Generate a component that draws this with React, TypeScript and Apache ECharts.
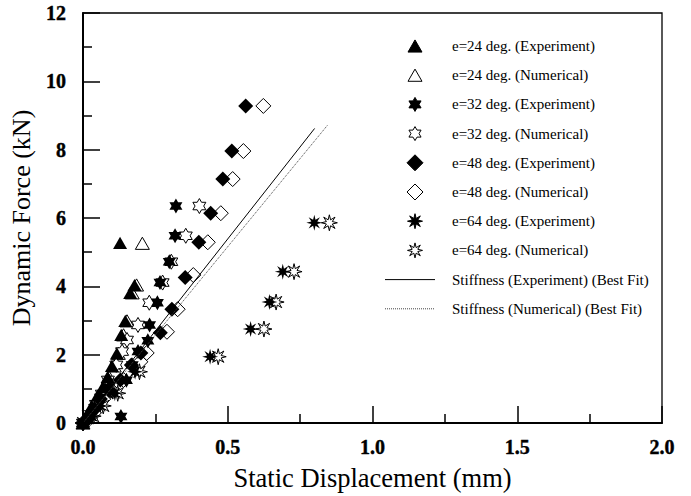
import React, { useEffect, useRef } from "react";
import * as echarts from "echarts";

// ---- data (x: static displacement mm, y: dynamic force kN) ----
const e24Exp = [[0, 0], [0.015, 0.25], [0.03, 0.5], [0.05, 0.8], [0.068, 1.05], [0.085, 1.35], [0.1, 1.67], [0.117, 2.04], [0.132, 2.58], [0.146, 2.99], [0.163, 3.81], [0.178, 4.04], [0.128, 5.27]];
const e24Num = [[0, 0], [0.02, 0.25], [0.035, 0.5], [0.055, 0.8], [0.075, 1.05], [0.09, 1.35], [0.108, 1.67], [0.122, 2.04], [0.14, 2.58], [0.152, 2.99], [0.17, 3.81], [0.185, 4.04], [0.205, 5.26]];
const e32Exp = [[0, 0], [0.02, 0.2], [0.04, 0.45], [0.06, 0.75], [0.09, 1.05], [0.131, 0.19], [0.15, 1.25], [0.17, 1.7], [0.19, 2.09], [0.224, 2.41], [0.23, 2.87], [0.257, 3.52], [0.266, 4.11], [0.298, 4.72], [0.318, 5.48], [0.321, 6.35]];
const e32Num = [[0, 0], [0.02, 0.25], [0.045, 0.55], [0.065, 0.85], [0.086, 1.26], [0.115, 1.7], [0.135, 2.09], [0.152, 2.43], [0.19, 2.87], [0.229, 3.52], [0.275, 4.11], [0.305, 4.72], [0.355, 5.48], [0.402, 6.35]];
const e48Exp = [[0, 0], [0.02, 0.15], [0.04, 0.4], [0.06, 0.7], [0.09, 0.95], [0.129, 1.26], [0.167, 1.7], [0.2, 2.05], [0.267, 2.64], [0.307, 3.33], [0.353, 4.26], [0.4, 5.29], [0.441, 6.14], [0.483, 7.14], [0.514, 7.96], [0.562, 9.28]];
const e48Num = [[0, 0], [0.025, 0.15], [0.05, 0.4], [0.07, 0.7], [0.1, 0.95], [0.14, 1.26], [0.198, 1.79], [0.22, 2.05], [0.29, 2.67], [0.327, 3.33], [0.381, 4.33], [0.431, 5.29], [0.476, 6.14], [0.517, 7.14], [0.554, 7.96], [0.623, 9.28]];
const e64Exp = [[0, 0], [0.03, 0.2], [0.06, 0.5], [0.11, 0.87], [0.18, 1.5], [0.439, 1.94], [0.579, 2.75], [0.644, 3.54], [0.69, 4.43], [0.799, 5.86]];
const e64Num = [[0, 0], [0.035, 0.2], [0.07, 0.5], [0.12, 0.87], [0.195, 1.5], [0.467, 1.94], [0.625, 2.75], [0.667, 3.54], [0.729, 4.43], [0.851, 5.86]];
const fitExp = [[0, 0], [0.8, 8.62]];
const fitNum = [[0, 0], [0.845, 8.72]];

const names = [
  "e=24 deg. (Experiment)",
  "e=24 deg. (Numerical)",
  "e=32 deg. (Experiment)",
  "e=32 deg. (Numerical)",
  "e=48 deg. (Experiment)",
  "e=48 deg. (Numerical)",
  "e=64 deg. (Experiment)",
  "e=64 deg. (Numerical)",
];
const lineNames = ["Stiffness (Experiment) (Best Fit)", "Stiffness (Numerical) (Best Fit)"];

const D_TRI = "M50,0L100,87L0,87Z";
const D_DIA = "M50,0L100,50L50,100L0,50Z";
const D_HEX = "M50,0L64.43,25L93.3,25L78.87,50L93.3,75L64.43,75L50,100L35.57,75L6.7,75L21.13,50L6.7,25L35.57,25Z";
const D_STAR8 = "M50,0L57.65,31.52L85.36,14.64L68.48,42.35L100,50L68.48,57.65L85.36,85.36L57.65,68.48L50,100L42.35,68.48L14.64,85.36L31.52,57.65L0,50L31.52,42.35L14.64,14.64L42.35,31.52Z";

echarts.graphic.registerShape("lgTri", echarts.graphic.extendPath(D_TRI, {}));
echarts.graphic.registerShape("lgDia", echarts.graphic.extendPath(D_DIA, {}));
echarts.graphic.registerShape("lgHex", echarts.graphic.extendPath(D_HEX, {}));
echarts.graphic.registerShape("lgStar8", echarts.graphic.extendPath(D_STAR8, {}));

const FONT = "'Times New Roman', 'Liberation Serif', serif";

function scat(name: string, data: number[][], d: string, size: number, filled: boolean) {
  return {
    type: "scatter",
    name,
    data,
    symbol: "path://" + d,
    symbolSize: size,
    symbolKeepAspect: true,
    itemStyle: filled
      ? { color: "#000", borderColor: "#000", borderWidth: 0, opacity: 1 }
      : { color: "#fff", borderColor: "#000", borderWidth: 1, opacity: 1 },
    z: filled ? 4 : 3,
  };
}

function buildLegend() {
  const shapes = ["lgTri", "lgTri", "lgHex", "lgHex", "lgDia", "lgDia", "lgStar8", "lgStar8"];
  const sizes = [14, 14, 14, 14, 16, 16, 15, 15];
  const els: any[] = [];
  const x0 = 415;
  const y0 = 46;
  const dy = 29.2;
  names.forEach((n, i) => {
    const y = y0 + i * dy;
    const s = sizes[i];
    const filled = i % 2 === 0;
    const h = shapes[i] === "lgTri" ? s * 0.87 : s;
    els.push({
      type: shapes[i],
      x: x0 - s / 2,
      y: y - h / 2,
      scaleX: s / 100,
      scaleY: s / 100,
      style: { fill: filled ? "#000" : "#fff", stroke: "#000", lineWidth: 1, strokeNoScale: true },
      silent: true,
    });
    els.push({
      type: "text",
      x: 452,
      y,
      style: { text: n, fontFamily: FONT, fontSize: 15, fill: "#000", verticalAlign: "middle", align: "left" },
      silent: true,
    });
  });
  lineNames.forEach((n, j) => {
    const y = y0 + (8 + j) * dy;
    els.push({
      type: "line",
      shape: { x1: 385, y1: y, x2: 435, y2: y },
      style: j === 0 ? { stroke: "#000", lineWidth: 1 } : { stroke: "#444", lineWidth: 1, lineDash: [1, 1] },
      silent: true,
    });
    els.push({
      type: "text",
      x: 452,
      y,
      style: { text: n, fontFamily: FONT, fontSize: 15, fill: "#000", verticalAlign: "middle", align: "left" },
      silent: true,
    });
  });
  return els;
}

export default function App() {
  const ref = useRef<HTMLDivElement>(null);
  useEffect(() => {
    if (!ref.current) return;
    const chart = echarts.init(ref.current, null, { renderer: "svg" });
    const axisLabel = {
      fontFamily: FONT,
      fontWeight: "bold",
      fontSize: 20,
      color: "#000",
      textBorderColor: "#000",
      textBorderWidth: 0.4,
    };
    chart.setOption({
      animation: false,
      backgroundColor: "#fff",
      grid: { left: 83, right: 29, top: 13, bottom: 73, show: true, borderColor: "#000", borderWidth: 1.3, backgroundColor: "transparent" },
      xAxis: {
        type: "value",
        min: 0,
        max: 2,
        interval: 0.5,
        name: "Static Displacement (mm)",
        nameLocation: "middle",
        nameGap: 41,
        nameTextStyle: { fontFamily: FONT, fontSize: 26.5, color: "#000" },
        axisLine: { show: true, lineStyle: { color: "#000", width: 2 } },
        axisTick: { show: true, inside: true, length: 17, lineStyle: { color: "#000", width: 1.5 } },
        minorTick: { show: true, splitNumber: 2, length: 9, lineStyle: { color: "#000", width: 1.5 } },
        splitLine: { show: false },
        axisLabel: { ...axisLabel, margin: 14, formatter: (v: number) => v.toFixed(1) },
        z: 10,
      },
      yAxis: {
        type: "value",
        min: 0,
        max: 12,
        interval: 2,
        name: "Dynamic Force (kN)",
        nameLocation: "middle",
        nameGap: 40,
        nameTextStyle: { fontFamily: FONT, fontSize: 26, color: "#000" },
        axisLine: { show: true, lineStyle: { color: "#000", width: 2 } },
        axisTick: { show: true, inside: true, length: 17, lineStyle: { color: "#000", width: 1.5 } },
        minorTick: { show: true, splitNumber: 2, length: 9, lineStyle: { color: "#000", width: 1.5 } },
        splitLine: { show: false },
        axisLabel: { ...axisLabel, margin: 17 },
        z: 10,
      },
      graphic: buildLegend(),
      series: [
        scat(names[1], e24Num, D_TRI, 14, false),
        scat(names[3], e32Num, D_HEX, 15, false),
        scat(names[5], e48Num, D_DIA, 15, false),
        scat(names[7], e64Num, D_STAR8, 16, false),
        scat(names[0], e24Exp, D_TRI, 14, true),
        scat(names[2], e32Exp, D_HEX, 15, true),
        scat(names[4], e48Exp, D_DIA, 15, true),
        scat(names[6], e64Exp, D_STAR8, 16, true),
        {
          type: "line",
          name: lineNames[0],
          data: fitExp,
          symbol: "none",
          lineStyle: { color: "#000", width: 1, type: "solid" },
          z: 5,
        },
        {
          type: "line",
          name: lineNames[1],
          data: fitNum,
          symbol: "none",
          lineStyle: { color: "#444", width: 1, type: "dotted" },
          z: 5,
        },
      ],
    });
    return () => chart.dispose();
  }, []);
  return <div ref={ref} style={{ width: 691, height: 496, position: "absolute", left: 0, top: 0 }} />;
}
